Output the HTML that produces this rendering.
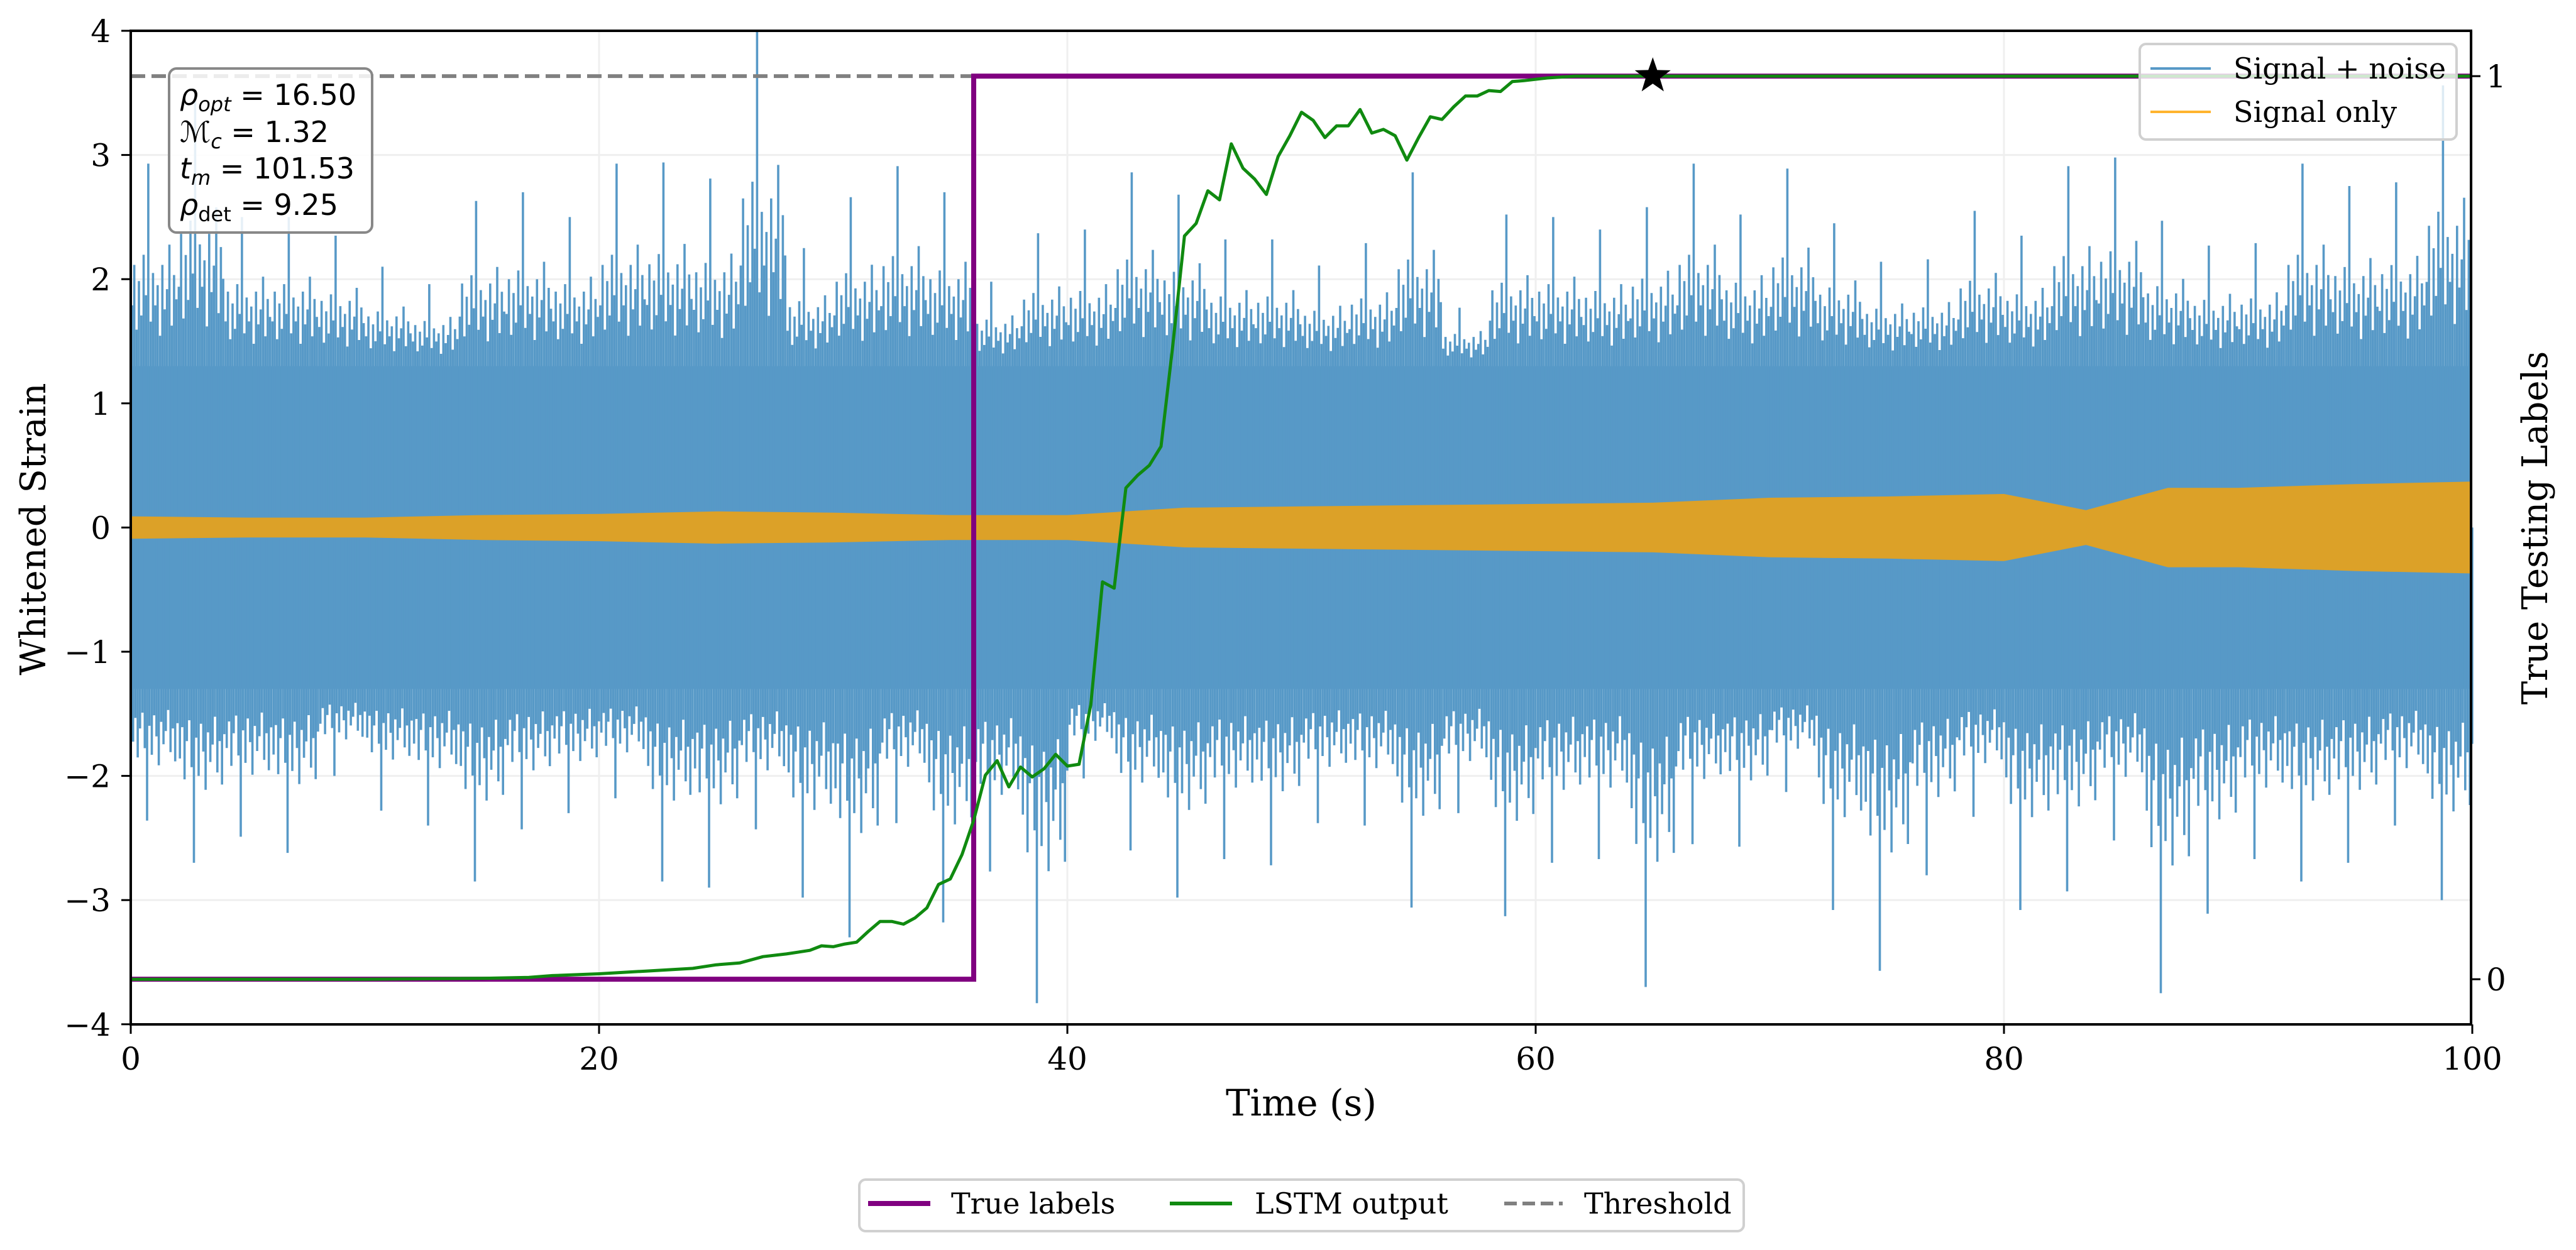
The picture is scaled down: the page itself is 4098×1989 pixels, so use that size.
<!DOCTYPE html>
<html><head><meta charset="utf-8"><style>
html,body{margin:0;padding:0;background:#fff;}
svg{display:block;}
text{font-family:"DejaVu Serif","Liberation Serif",serif;fill:#000;}
.mt{font-family:"DejaVu Sans","Liberation Sans",sans-serif;}
</style></head><body>
<svg id="chart" xmlns="http://www.w3.org/2000/svg" width="4098" height="1989" viewBox="0 0 4098 1989">
<rect x="0" y="0" width="4098" height="1989" fill="#fff"/>
<g id="grid"></g>
<g id="noise"></g>
<g id="signal"></g>
<g id="lines"></g>
<g id="axes"></g>
<g>
<rect x="269" y="109" width="323" height="261" rx="12" fill="#fff" fill-opacity="0.85" stroke="#888" stroke-width="4"/>
<text class="mt" x="286" y="167" font-size="46"><tspan font-style="italic">ρ</tspan><tspan font-style="italic" font-size="32" dy="10">opt</tspan><tspan dy="-10"> = 16.50</tspan></text>
<text class="mt" x="286" y="226" font-size="46"><tspan font-style="italic">ℳ</tspan><tspan font-style="italic" font-size="32" dy="10">c</tspan><tspan dy="-10"> = 1.32</tspan></text>
<text class="mt" x="286" y="284" font-size="46"><tspan font-style="italic">t</tspan><tspan font-style="italic" font-size="32" dy="10">m</tspan><tspan dy="-10"> = 101.53</tspan></text>
<text class="mt" x="286" y="342" font-size="46"><tspan font-style="italic">ρ</tspan><tspan font-size="32" dy="10">det</tspan><tspan dy="-10"> = 9.25</tspan></text>
</g>
<g>
<rect x="3404" y="70" width="504" height="152" rx="10" fill="#fff" fill-opacity="0.8" stroke="#d0d0d0" stroke-width="4"/>
<line x1="3421" y1="109" x2="3517" y2="109" stroke="#5799c7" stroke-width="4"/>
<text x="3553" y="125" font-size="46">Signal + noise</text>
<line x1="3421" y1="178" x2="3517" y2="178" stroke="#ffb42e" stroke-width="4"/>
<text x="3553" y="194" font-size="46">Signal only</text>
</g>
<g>
<rect x="1367" y="1877" width="1407" height="82" rx="10" fill="#fff" stroke="#d0d0d0" stroke-width="4"/>
<line x1="1381" y1="1915" x2="1480" y2="1915" stroke="#800080" stroke-width="8"/>
<text x="1513" y="1931" font-size="46">True labels</text>
<line x1="1861" y1="1915" x2="1960" y2="1915" stroke="#108a10" stroke-width="6"/>
<text x="1996" y="1931" font-size="46">LSTM output</text>
<line x1="2393" y1="1915" x2="2486" y2="1915" stroke="#808080" stroke-width="6" stroke-dasharray="20,9"/>
<text x="2520" y="1931" font-size="46">Threshold</text>
</g>
<text x="2070" y="1775" font-size="58" text-anchor="middle">Time (s)</text>
<text x="0" y="0" font-size="56" text-anchor="middle" transform="translate(72,842) rotate(-90)">Whitened Strain</text>
<text x="0" y="0" font-size="56" text-anchor="middle" transform="translate(4052,840) rotate(-90)">True Testing Labels</text>
</svg>
<script>
// ---- data ----
const xTicks = [0, 20, 40, 60, 80, 100];
const yTicks = [-4, -3, -2, -1, 0, 1, 2, 3, 4];
const rightTicks = [0, 1];
const trueLabelT = [0, 36, 36, 100];
const trueLabelV = [0, 0, 1, 1];
const lstmT = [0,5,10,15,17,18,20,22,24,25,26,27,28,29,29.5,30,30.5,31,31.5,32,32.5,33,33.5,34,34.5,35,35.5,36,36.5,37,37.5,38,38.5,39,39.5,40,40.5,41,41.5,42,42.5,43,43.5,44,44.5,45,45.5,46,46.5,47,47.5,48,48.5,49,49.5,50,50.5,51,51.5,52,52.5,53,53.5,54,54.5,55,55.5,56,56.5,57,57.5,58,58.5,59,59.5,60.5,61.7,100];
const lstmV = [0,0,0,0.001,0.002,0.004,0.006,0.009,0.012,0.016,0.018,0.025,0.028,0.032,0.037,0.036,0.039,0.041,0.053,0.064,0.064,0.061,0.068,0.079,0.105,0.111,0.138,0.176,0.226,0.242,0.213,0.235,0.224,0.233,0.249,0.236,0.238,0.304,0.440,0.433,0.544,0.558,0.569,0.590,0.701,0.823,0.837,0.873,0.863,0.925,0.898,0.886,0.869,0.911,0.934,0.960,0.951,0.932,0.945,0.945,0.963,0.937,0.941,0.934,0.907,0.932,0.955,0.952,0.966,0.978,0.978,0.984,0.983,0.994,0.995,0.998,1.0,1.0];
const thresholdV = 1.0;
const detectionT = 65;
const noiseBinStart = [0,2,4,6,8,10,12,14,16,18,20,22,24,26,28,30,32,34,36,38,40,42,44,46,48,50,52,54,56,58,60,62,64,66,68,70,72,74,76,78,80,82,84,86,88,90,92,94,96,98];
const noiseHi = [2.93,3.43,2.5,2.5,2.35,2.1,1.96,2.63,2.7,2.5,2.93,2.94,2.81,4.0,2.25,2.66,2.91,2.7,1.98,2.37,2.4,2.86,2.68,2.32,2.32,2.11,2.29,2.86,1.77,2.52,2.5,2.4,2.58,2.93,2.52,2.89,2.45,2.14,2.16,2.55,2.35,2.91,2.98,2.47,2.27,2.29,2.93,2.75,2.78,3.56];
const noiseLo = [-2.36,-2.7,-2.49,-2.62,-2.0,-2.28,-2.4,-2.85,-2.43,-2.3,-2.18,-2.85,-2.9,-2.43,-2.98,-3.3,-2.38,-3.18,-2.77,-3.83,-2.02,-2.6,-2.98,-2.67,-2.72,-2.38,-2.4,-3.06,-2.3,-3.13,-2.7,-2.67,-3.7,-2.55,-2.57,-2.13,-3.08,-3.57,-2.8,-2.33,-3.08,-2.93,-2.52,-3.75,-3.11,-2.67,-2.85,-2.7,-2.4,-3.0];
const signalT = [0,5,10,15,20,25,30,35,40,45,50,55,60,65,70,75,80,83.5,87,90,95,100];
const signalAmp = [0.09,0.08,0.08,0.10,0.11,0.13,0.12,0.10,0.10,0.16,0.17,0.18,0.19,0.20,0.24,0.25,0.27,0.14,0.32,0.32,0.35,0.37];

// ---- scales ----
const X = t => 208 + t * 37.25;
const Y = s => 49 + (4 - s) * 197.6;
const R = v => 1630 - (v + 0.05) * 1437;
const NS = 'http://www.w3.org/2000/svg';
function mk(tag, attrs, parent) {
  const e = document.createElementNS(NS, tag);
  for (const k in attrs) e.setAttribute(k, attrs[k]);
  parent.appendChild(e);
  return e;
}
const gridG = document.getElementById('grid');
const axesG = document.getElementById('axes');
const noiseG = document.getElementById('noise');
const signalG = document.getElementById('signal');
const linesG = document.getElementById('lines');

// grid
xTicks.forEach(t => {
  const g = mk('line', {x1: X(t), x2: X(t), y1: 49, y2: 1630, stroke: '#efefef', 'stroke-width': 3}, gridG);
  
  
});
yTicks.forEach(s => {
  const g = mk('line', {x1: 208, x2: 3931, y1: Y(s), y2: Y(s), stroke: '#efefef', 'stroke-width': 3}, gridG);
  
  
});

// noise: core band + spikes per bin
const CORE = 1.3;
const core = mk('rect', {x: X(0), y: Y(CORE), width: X(100) - X(0), height: Y(-CORE) - Y(CORE), fill: '#5799c7'}, noiseG);


const hiPat = [0.3,0.5,0.18,0.42,0.25,0.55,0.35,1.0,0.22,0.46,0.3,0.4,0.15,0.5,0.28,0.38,0.6,0.2,0.45,0.33];
const loPat = [0.4,0.22,0.52,0.3,0.18,0.45,1.0,0.28,0.5,0.2,0.36,0.58,0.25,0.42,0.32,0.16,0.48,0.3,0.55,0.26];
noiseBinStart.forEach((t0, i) => {
  const n = hiPat.length;
  let d = '';
  for (let k = 0; k < n; k++) {
    const tx = X(t0 + 2 * (k + 0.5) / n);
    const h = CORE + (noiseHi[i] - CORE) * hiPat[k];
    const l = -CORE + (noiseLo[i] + CORE) * loPat[k];
    d += 'M' + tx.toFixed(1) + ' ' + Y(Math.min(4, h)).toFixed(1) + 'V' + Y(0).toFixed(1);
    d += 'M' + (tx + 1.8).toFixed(1) + ' ' + Y(0).toFixed(1) + 'V' + Y(l).toFixed(1);
  }
  const p = mk('path', {d: d, stroke: '#5799c7', 'stroke-width': 3.6, fill: 'none'}, noiseG);
  
  
});

// signal only band
let sigTop = '', sigBot = '';
signalT.forEach((t, i) => { sigTop += (i ? 'L' : 'M') + X(t).toFixed(1) + ' ' + Y(signalAmp[i]).toFixed(1); });
for (let i = signalT.length - 1; i >= 0; i--) sigBot += 'L' + X(signalT[i]).toFixed(1) + ' ' + Y(-signalAmp[i]).toFixed(1);
const sig = mk('path', {d: sigTop + sigBot + 'Z', fill: '#dca128'}, signalG);



// threshold
const th = mk('line', {x1: X(0), x2: X(100), y1: R(thresholdV), y2: R(thresholdV), stroke: '#808080', 'stroke-width': 6, 'stroke-dasharray': '23,10'}, linesG);


// true labels
const tl = mk('polyline', {points: trueLabelT.map((t, i) => X(t) + ',' + R(trueLabelV[i])).join(' '), fill: 'none', stroke: '#800080', 'stroke-width': 8}, linesG);


// lstm
const ls = mk('polyline', {points: lstmT.map((t, i) => X(t).toFixed(1) + ',' + R(lstmV[i]).toFixed(1)).join(' '), fill: 'none', stroke: '#108a10', 'stroke-width': 5, 'stroke-linejoin': 'round'}, linesG);


// star
const scx = X(detectionT), scy = R(1), ro = 30, ri = 12;
let sp = '';
for (let k = 0; k < 10; k++) {
  const a = -Math.PI / 2 + k * Math.PI / 5, r = k % 2 ? ri : ro;
  sp += (scx + r * Math.cos(a)).toFixed(1) + ',' + (scy + r * Math.sin(a)).toFixed(1) + ' ';
}
const starEl = mk('polygon', {points: sp, fill: '#000'}, linesG);



// axes frame
const fr = mk('rect', {x: 208, y: 49, width: 3723, height: 1581, fill: 'none', stroke: '#000', 'stroke-width': 4}, axesG);


xTicks.forEach(t => {
  const l = mk('line', {x1: X(t), x2: X(t), y1: 1630, y2: 1645, stroke: '#000', 'stroke-width': 3}, axesG);
  
  
  const tx = mk('text', {x: X(t), y: 1702, 'font-size': 50, 'text-anchor': 'middle'}, axesG);
  tx.textContent = String(t);
  
  
});
yTicks.forEach(s => {
  const l = mk('line', {x1: 193, x2: 208, y1: Y(s), y2: Y(s), stroke: '#000', 'stroke-width': 3}, axesG);
  
  
  const tx = mk('text', {x: 176, y: Y(s) + 18, 'font-size': 50, 'text-anchor': 'end'}, axesG);
  tx.textContent = s < 0 ? '\u2212' + Math.abs(s) : String(s);
  
  
});
rightTicks.forEach(v => {
  const l = mk('line', {x1: 3931, x2: 3946, y1: R(v), y2: R(v), stroke: '#000', 'stroke-width': 3}, axesG);
  
  
  const tx = mk('text', {x: 3955, y: R(v) + 18, 'font-size': 50}, axesG);
  tx.textContent = String(v);
  
  
});
</script>
</body></html>
